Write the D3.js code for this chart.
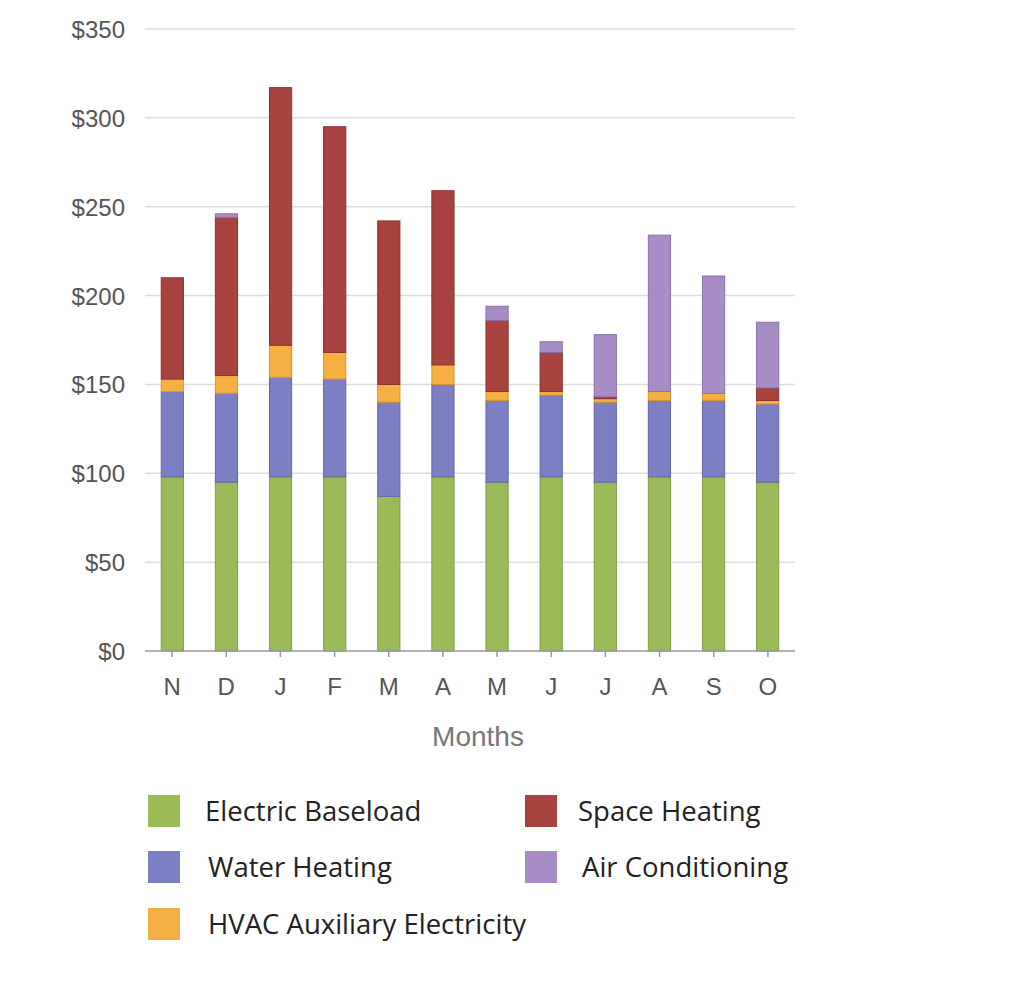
<!DOCTYPE html>
<html><head><meta charset="utf-8">
<script src="https://cdn.jsdelivr.net/npm/d3@7"></script>
<style>body{margin:0;background:#fff}</style></head>
<body><script>
const months = ["N","D","J","F","M","A","M","J","J","A","S","O"];
const baseload = [98,95,98,98,87,98,95,98,95,98,98,95];
const water = [48,50,56,55,53,52,46,46,45,43,43,44];
const hvac = [7,10,18,15,10,11,5,2,2,5,4,2];
const heating = [57,89,145,127,92,98,40,22,1,0,0,7];
const ac = [0,2,0,0,0,0,8,6,35,88,66,37];
const yTicks = [0,50,100,150,200,250,300,350];
const series = [
  {name:"Electric Baseload", vals:baseload, color:"#9bbb59", stroke:"#7f9e45"},
  {name:"Water Heating", vals:water, color:"#7c80c3", stroke:"#6266a8"},
  {name:"HVAC Auxiliary Electricity", vals:hvac, color:"#f4b043", stroke:"#d8962c"},
  {name:"Space Heating", vals:heating, color:"#a8433f", stroke:"#8c312e"},
  {name:"Air Conditioning", vals:ac, color:"#a78cc5", stroke:"#8b70aa"}
];
const svg = d3.select("body").append("svg").attr("width",1024).attr("height",984);
const x = d3.scaleBand().domain(d3.range(months.length)).range([145,795]).paddingInner(0.59).paddingOuter(0.3);
const y = d3.scaleLinear().domain([0,350]).range([651,29]);
svg.append("g").selectAll("line").data(yTicks.slice(1)).join("line")
  .attr("x1",145).attr("x2",795).attr("y1",d=>y(d)).attr("y2",d=>y(d)).attr("stroke","#ddd").attr("stroke-width",1.5);
svg.append("g").selectAll("text").data(yTicks).join("text")
  .attr("x",125).attr("y",d=>y(d)+9).attr("text-anchor","end")
  .style("font-family","Liberation Sans, Arial").style("font-size","24px").attr("fill","#555")
  .text(d=>"$"+d);
const stack = d3.stack().keys(d3.range(series.length)).value((i,k)=>series[k].vals[i])(d3.range(months.length));
stack.forEach((layer,k)=>{
  svg.append("g").selectAll("rect").data(layer).join("rect")
    .attr("x",(d,i)=>x(i)).attr("width",x.bandwidth())
    .attr("y",d=>y(d[1])).attr("height",d=>y(d[0])-y(d[1]))
    .attr("fill",series[k].color).attr("stroke",series[k].stroke).attr("stroke-width",d=>d[1]>d[0]?1:0);
});
const ax = svg.append("g").attr("transform","translate(0,651)")
  .call(d3.axisBottom(d3.scaleBand().domain(d3.range(12)).range([145,795])).tickFormat(i=>months[i]).tickSize(6));
ax.selectAll("line,path").attr("stroke","#999").attr("stroke-width",1.5);
ax.select("path").attr("d","M145,0H795");
ax.selectAll("text").attr("dy","1.45em").style("font-family","Liberation Sans, Arial").style("font-size","24px").attr("fill","#555");
svg.append("text").attr("x",478).attr("y",746).attr("text-anchor","middle")
  .style("font-family","Liberation Sans, Arial").style("font-size","28px").attr("fill","#777").text("Months");
const legPos = [[148,795],[148,851],[148,908],[525,795],[525,851]];
const textX = [205,208,208,578,582];
series.forEach((s,k)=>{
  const [lx,ly]=legPos[k];
  svg.append("rect").attr("x",lx).attr("y",ly).attr("width",32).attr("height",32).attr("fill",s.color);
  svg.append("text").attr("x",textX[k]).attr("y",ly+26)
    .style("font-family","Open Sans, sans-serif").style("font-size","27.5px").attr("fill","#222").text(s.name);
});
</script></body></html>
